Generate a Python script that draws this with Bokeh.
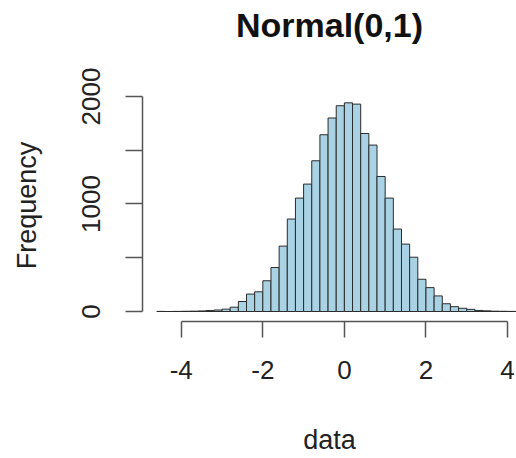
from bokeh.plotting import figure
from bokeh.models import Range1d, FixedTicker, LinearAxis
from bokeh.embed import file_html
from bokeh.resources import INLINE

# Histogram of 'data' (bin width 0.2)
bin_left = [round(-4.6 + 0.2 * i, 1) for i in range(45)]
counts = [1, 0, 1, 2, 3, 5, 9, 14, 22, 40,
          93, 162, 183, 286, 409, 608, 860, 1055, 1185, 1402,
          1644, 1800, 1914, 1941, 1929, 1656, 1548, 1256, 1055, 767,
          627, 505, 300, 222, 145, 72, 45, 30, 20, 10,
          6, 3, 2, 1, 1]
bin_right = [round(b + 0.2, 1) for b in bin_left]
x_ticks = [-4, -2, 0, 2, 4]
x_tick_labels = ["-4", "-2", "0", "2", "4"]
y_ticks = [0, 1000, 2000]
y_minor = [500, 1500]
title_text = "Normal(0,1)"
x_label = "data"
y_label = "Frequency"

FONT = "Liberation Sans"

p = figure(width=516, height=458, output_backend="svg", toolbar_location=None,
           x_range=Range1d(-4.95, 4.22), y_range=Range1d(-93, 2065),
           min_border_left=142, min_border_right=0, min_border_top=89,
           min_border_bottom=137)

p.quad(left=bin_left, right=bin_right, bottom=0, top=counts,
       fill_color="#a9d3e4", line_color="#2b2b2b", line_width=1)

p.grid.visible = False
p.outline_line_color = None
p.background_fill_color = "white"

for ax in (p.xaxis[0], p.yaxis[0]):
    ax.axis_line_color = "#555555"
    ax.axis_line_width = 1.5
    ax.major_tick_line_color = "#555555"
    ax.major_tick_line_width = 1.5
    ax.minor_tick_line_color = "#555555"
    ax.minor_tick_line_width = 1.5
    ax.major_tick_in = 0
    ax.minor_tick_in = 0
    ax.major_label_text_font = FONT
    ax.major_label_text_font_size = "26px"
    ax.major_label_text_color = "#222222"
    ax.axis_label_text_font = FONT
    ax.axis_label_text_font_size = "27px"
    ax.axis_label_text_font_style = "normal"
    ax.axis_label_text_color = "#222222"

xa = p.xaxis[0]
xa.ticker = FixedTicker(ticks=x_ticks, minor_ticks=[])
xa.major_label_overrides = {t: l for t, l in zip(x_ticks, x_tick_labels)}
xa.bounds = (-4, 4)
xa.major_tick_out = 16
xa.major_label_standoff = 23
xa.axis_label = x_label
xa.axis_label_standoff = 43

ya = p.yaxis[0]
ya.ticker = FixedTicker(ticks=y_ticks, minor_ticks=y_minor)
ya.bounds = (0, 2000)
ya.major_tick_out = 17
ya.minor_tick_out = 17
ya.major_label_orientation = "vertical"
ya.major_label_standoff = 25
ya.axis_label = y_label
ya.axis_label_standoff = 38

# main title drawn as the label of a bare axis above the frame
top_axis = LinearAxis(ticker=FixedTicker(ticks=[], minor_ticks=[]),
                      major_tick_out=0, major_tick_in=0, minor_tick_out=0,
                      minor_tick_in=0, major_label_standoff=0,
                      axis_line_color=None, major_tick_line_color=None,
                      minor_tick_line_color=None,
                      axis_label=title_text, axis_label_standoff=46,
                      axis_label_text_font=FONT, axis_label_text_font_size="34px",
                      axis_label_text_font_style="bold",
                      axis_label_text_color="#111111")
p.add_layout(top_axis, "above")

open("out.html", "w").write(file_html(p, INLINE))
